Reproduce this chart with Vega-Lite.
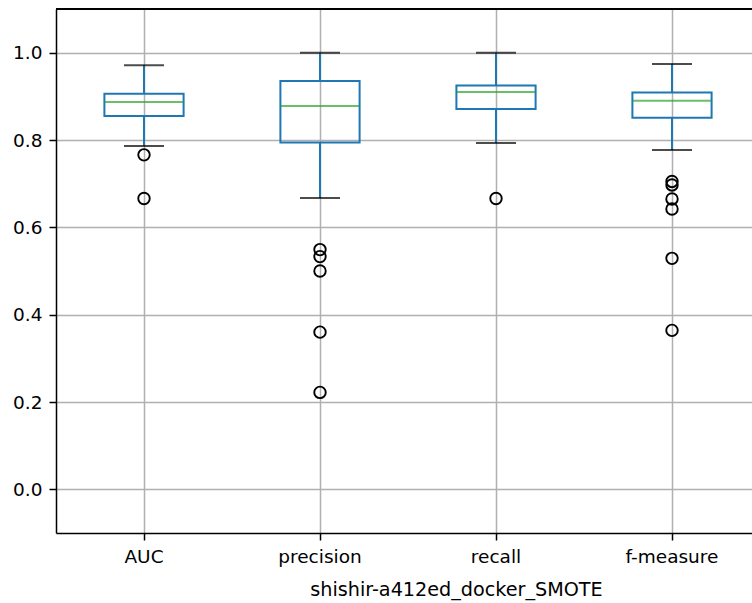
{
  "$schema": "https://vega.github.io/schema/vega-lite/v6.json",
  "autosize": {"type": "none"},
  "padding": {"left": 56, "top": 9, "right": 0, "bottom": 70},
  "width": 696,
  "height": 524,
  "background": "white",
  "config": {
    "view": {"stroke": null},
    "font": "DejaVu Sans",
    "axis": {
      "labelFont": "DejaVu Sans",
      "titleFont": "DejaVu Sans",
      "labelFontSize": 18.5,
      "titleFontSize": 19.2,
      "labelColor": "#000000",
      "titleColor": "#000000",
      "titleFontWeight": "normal",
      "tickColor": "#000000",
      "tickWidth": 1.5,
      "tickSize": 7,
      "domainColor": "#000000",
      "domainWidth": 1.5,
      "grid": true,
      "gridColor": "#b0b0b0",
      "gridWidth": 1.5
    }
  },
  "datasets": {
    "summary": [
      {"metric": "AUC", "lower": 0.786, "q1": 0.855, "median": 0.887, "q3": 0.906, "upper": 0.971},
      {"metric": "precision", "lower": 0.667, "q1": 0.794, "median": 0.878, "q3": 0.935, "upper": 1.0},
      {"metric": "recall", "lower": 0.793, "q1": 0.871, "median": 0.91, "q3": 0.925, "upper": 1.0},
      {"metric": "f-measure", "lower": 0.777, "q1": 0.851, "median": 0.89, "q3": 0.909, "upper": 0.974}
    ],
    "outliers": [
      {"metric": "AUC", "value": 0.766},
      {"metric": "AUC", "value": 0.666},
      {"metric": "precision", "value": 0.549},
      {"metric": "precision", "value": 0.533},
      {"metric": "precision", "value": 0.5},
      {"metric": "precision", "value": 0.36},
      {"metric": "precision", "value": 0.222},
      {"metric": "recall", "value": 0.666},
      {"metric": "f-measure", "value": 0.705},
      {"metric": "f-measure", "value": 0.697},
      {"metric": "f-measure", "value": 0.665},
      {"metric": "f-measure", "value": 0.642},
      {"metric": "f-measure", "value": 0.529},
      {"metric": "f-measure", "value": 0.364}
    ]
  },
  "layer": [
    {
      "data": {"name": "summary"},
      "mark": {"type": "rule", "color": "#1f77b4", "strokeWidth": 2},
      "encoding": {
        "x": {
          "field": "metric", "type": "nominal",
          "sort": ["AUC", "precision", "recall", "f-measure"],
          "scale": {"range": [0, 704], "paddingInner": 0, "paddingOuter": 0},
          "axis": {
            "labelAngle": 0, "labelPadding": 7,
            "title": "shishir-a412ed_docker_SMOTE",
            "titleX": 400, "titleY": 62, "titleBaseline": "alphabetic", "titleAlign": "center"
          }
        },
        "y": {
          "field": "lower", "type": "quantitative",
          "scale": {"domain": [-0.1, 1.1], "nice": false, "zero": false},
          "axis": {"values": [0, 0.2, 0.4, 0.6, 0.8, 1.0], "format": ".1f", "labelPadding": 7, "title": null}
        },
        "y2": {"field": "q1"}
      }
    },
    {
      "data": {"name": "summary"},
      "mark": {"type": "rule", "color": "#1f77b4", "strokeWidth": 2},
      "encoding": {
        "x": {"field": "metric", "type": "nominal", "sort": ["AUC", "precision", "recall", "f-measure"]},
        "y": {"field": "q3", "type": "quantitative"},
        "y2": {"field": "upper"}
      }
    },
    {
      "data": {"name": "summary"},
      "mark": {"type": "bar", "width": {"band": 0.45}, "fill": "transparent", "stroke": "#1f77b4", "strokeWidth": 2},
      "encoding": {
        "x": {"field": "metric", "type": "nominal", "sort": ["AUC", "precision", "recall", "f-measure"]},
        "y": {"field": "q1", "type": "quantitative"},
        "y2": {"field": "q3"}
      }
    },
    {
      "data": {"name": "summary"},
      "mark": {"type": "tick", "color": "#000000", "size": 40, "thickness": 2, "orient": "horizontal"},
      "encoding": {
        "x": {"field": "metric", "type": "nominal", "sort": ["AUC", "precision", "recall", "f-measure"]},
        "y": {"field": "lower", "type": "quantitative"}
      }
    },
    {
      "data": {"name": "summary"},
      "mark": {"type": "tick", "color": "#000000", "size": 40, "thickness": 2, "orient": "horizontal"},
      "encoding": {
        "x": {"field": "metric", "type": "nominal", "sort": ["AUC", "precision", "recall", "f-measure"]},
        "y": {"field": "upper", "type": "quantitative"}
      }
    },
    {
      "data": {"name": "summary"},
      "mark": {"type": "tick", "color": "#2ca02c", "size": 79, "thickness": 2, "orient": "horizontal"},
      "encoding": {
        "x": {"field": "metric", "type": "nominal", "sort": ["AUC", "precision", "recall", "f-measure"]},
        "y": {"field": "median", "type": "quantitative"}
      }
    },
    {
      "data": {"name": "outliers"},
      "mark": {"type": "point", "shape": "circle", "filled": false, "color": "#000000", "size": 132, "strokeWidth": 1.9, "opacity": 1},
      "encoding": {
        "x": {"field": "metric", "type": "nominal", "sort": ["AUC", "precision", "recall", "f-measure"]},
        "y": {"field": "value", "type": "quantitative"}
      }
    },
    {
      "data": {"name": "summary"},
      "mark": {"type": "rule", "color": "#000000", "strokeWidth": 1.5},
      "encoding": {
        "y": {"datum": 1.1, "type": "quantitative"}
      }
    }
  ]
}
